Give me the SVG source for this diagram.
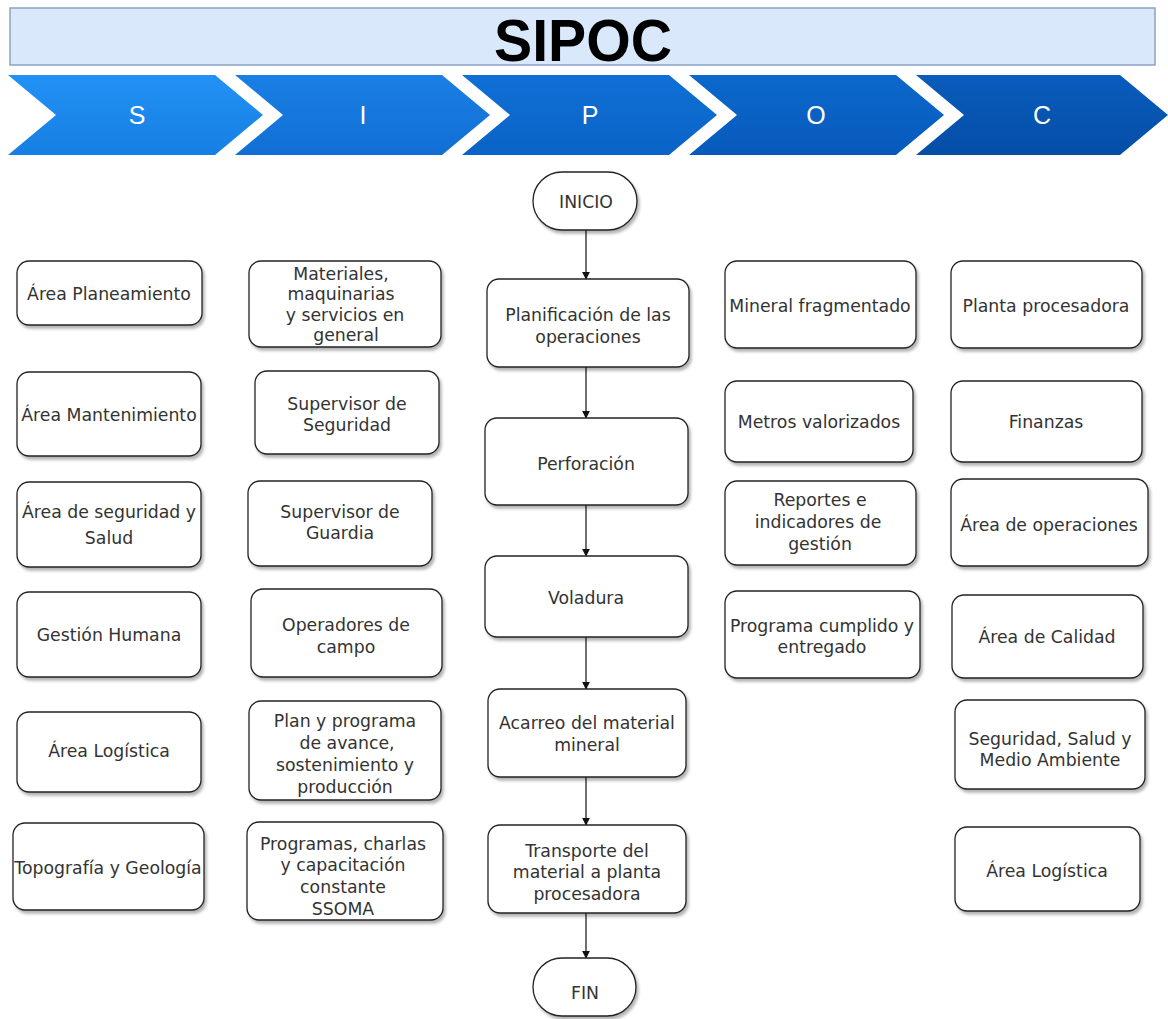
<svg xmlns="http://www.w3.org/2000/svg" width="1168" height="1019" viewBox="0 0 1168 1019">
<defs>
<filter id="sh" x="-10%" y="-10%" width="130%" height="140%">
<feDropShadow dx="2" dy="3" stdDeviation="1.5" flood-color="#000" flood-opacity="0.3"/>
</filter>
<marker id="arr" viewBox="0 0 10 10" refX="9" refY="5" markerWidth="8" markerHeight="8" orient="auto" markerUnits="userSpaceOnUse">
<path d="M0,0 L10,5 L0,10 Z" fill="#111"/>
</marker>
<linearGradient id="g0" x1="0" y1="0" x2="0" y2="1"><stop offset="0" stop-color="#2291f5"/><stop offset="1" stop-color="#167fe3"/></linearGradient>
<linearGradient id="g1" x1="0" y1="0" x2="0" y2="1"><stop offset="0" stop-color="#1a7fe4"/><stop offset="1" stop-color="#116fd4"/></linearGradient>
<linearGradient id="g2" x1="0" y1="0" x2="0" y2="1"><stop offset="0" stop-color="#1070d6"/><stop offset="1" stop-color="#0a63c6"/></linearGradient>
<linearGradient id="g3" x1="0" y1="0" x2="0" y2="1"><stop offset="0" stop-color="#0c68cc"/><stop offset="1" stop-color="#075abb"/></linearGradient>
<linearGradient id="g4" x1="0" y1="0" x2="0" y2="1"><stop offset="0" stop-color="#0a5cbc"/><stop offset="1" stop-color="#044ea6"/></linearGradient>
</defs>
<style>
.box{fill:#fff;stroke:#222;stroke-width:1.3;filter:url(#sh)}
.t{font-family:"DejaVu Sans",Verdana,sans-serif;font-size:17.3px;fill:#333;text-anchor:middle}
.lt{font-family:"Liberation Sans",Arial,sans-serif;font-size:25px;fill:#fff;text-anchor:middle}
.conn{stroke:#222;stroke-width:1.3;fill:none;marker-end:url(#arr)}
</style>
<rect width="1168" height="1019" fill="#fff"/>

<g id="header">
<rect x="10" y="8" width="1145" height="57" fill="#dae8fc" stroke="#8ca3c4" stroke-width="1.5"/>
<text x="583" y="61" font-family="'Liberation Sans',Arial,sans-serif" font-weight="bold" font-size="60" text-anchor="middle" fill="#000" textLength="178" lengthAdjust="spacingAndGlyphs">SIPOC</text>
</g>

<g id="chevrons">
<polygon points="8,75 215,75 263,115 215,155 8,155 56,115" fill="url(#g0)"/>
<polygon points="235,75 442,75 490,115 442,155 235,155 283,115" fill="url(#g1)"/>
<polygon points="462,75 669,75 717,115 669,155 462,155 510,115" fill="url(#g2)"/>
<polygon points="689,75 896,75 944,115 896,155 689,155 737,115" fill="url(#g3)"/>
<polygon points="916,75 1120,75 1168,115 1120,155 916,155 964,115" fill="url(#g4)"/>
<text class="lt" x="137" y="124">S</text>
<text class="lt" x="363" y="124">I</text>
<text class="lt" x="590" y="124">P</text>
<text class="lt" x="816" y="124">O</text>
<text class="lt" x="1042" y="124">C</text>
</g>

<g id="connectors">
<line class="conn" x1="586" y1="230" x2="586" y2="279"/>
<line class="conn" x1="586" y1="367" x2="586" y2="418"/>
<line class="conn" x1="586" y1="505" x2="586" y2="556"/>
<line class="conn" x1="586" y1="637" x2="586" y2="689"/>
<line class="conn" x1="586" y1="777" x2="586" y2="825"/>
<line class="conn" x1="586" y1="913" x2="586" y2="958"/>
</g>

<!-- S column -->
<g id="s1"><rect class="box" x="17" y="261" width="185" height="64" rx="12"/><text class="t" x="109" y="300">Área Planeamiento</text></g>
<g id="s2"><rect class="box" x="17" y="372" width="184" height="84" rx="12"/><text class="t" x="109" y="421">Área Mantenimiento</text></g>
<g id="s3"><rect class="box" x="17" y="482" width="184" height="85" rx="12"/><text class="t" x="109" y="518">Área de seguridad y</text><text class="t" x="109" y="544">Salud</text></g>
<g id="s4"><rect class="box" x="17" y="592" width="184" height="85" rx="12"/><text class="t" x="109" y="641">Gestión Humana</text></g>
<g id="s5"><rect class="box" x="17" y="712" width="184" height="80" rx="12"/><text class="t" x="109" y="757">Área Logística</text></g>
<g id="s6"><rect class="box" x="13" y="823" width="191" height="87" rx="12"/><text class="t" x="108" y="874">Topografía y Geología</text></g>

<!-- I column -->
<g id="i1"><rect class="box" x="249" y="261" width="192" height="86" rx="12"/><text class="t" x="341" y="280">Materiales,</text><text class="t" x="341" y="300">maquinarias</text><text class="t" x="345" y="321">y servicios en</text><text class="t" x="346" y="341">general</text></g>
<g id="i2"><rect class="box" x="255" y="371" width="184" height="83" rx="12"/><text class="t" x="347" y="410">Supervisor de</text><text class="t" x="347" y="431">Seguridad</text></g>
<g id="i3"><rect class="box" x="248" y="481" width="184" height="85" rx="12"/><text class="t" x="340" y="518">Supervisor de</text><text class="t" x="340" y="539">Guardia</text></g>
<g id="i4"><rect class="box" x="251" y="589" width="191" height="88" rx="12"/><text class="t" x="346" y="631">Operadores de</text><text class="t" x="346" y="653">campo</text></g>
<g id="i5"><rect class="box" x="249" y="701" width="192" height="99" rx="12"/><text class="t" x="345" y="727">Plan y programa</text><text class="t" x="347" y="749">de avance,</text><text class="t" x="345" y="771">sostenimiento y</text><text class="t" x="345" y="793">producción</text></g>
<g id="i6"><rect class="box" x="247" y="822" width="196" height="98" rx="12"/><text class="t" x="343" y="850">Programas, charlas</text><text class="t" x="343" y="871">y capacitación</text><text class="t" x="343" y="893">constante</text><text class="t" x="343" y="915">SSOMA</text></g>

<!-- P column -->
<g id="inicio"><rect class="box" x="533" y="172" width="104" height="58" rx="29"/><text class="t" x="586" y="208">INICIO</text></g>
<g id="p1"><rect class="box" x="487" y="279" width="202" height="88" rx="12"/><text class="t" x="588" y="321">Planificación de las</text><text class="t" x="588" y="343">operaciones</text></g>
<g id="p2"><rect class="box" x="485" y="418" width="203" height="87" rx="12"/><text class="t" x="586" y="470">Perforación</text></g>
<g id="p3"><rect class="box" x="485" y="556" width="203" height="81" rx="12"/><text class="t" x="586" y="604">Voladura</text></g>
<g id="p4"><rect class="box" x="488" y="689" width="198" height="88" rx="12"/><text class="t" x="587" y="729">Acarreo del material</text><text class="t" x="587" y="751">mineral</text></g>
<g id="p5"><rect class="box" x="488" y="825" width="198" height="88" rx="12"/><text class="t" x="587" y="857">Transporte del</text><text class="t" x="587" y="878">material a planta</text><text class="t" x="587" y="900">procesadora</text></g>
<g id="fin"><rect class="box" x="533" y="958" width="103" height="58" rx="29"/><text class="t" x="585" y="999">FIN</text></g>

<!-- O column -->
<g id="o1"><rect class="box" x="725" y="261" width="191" height="87" rx="12"/><text class="t" x="820" y="312">Mineral fragmentado</text></g>
<g id="o2"><rect class="box" x="725" y="381" width="188" height="81" rx="12"/><text class="t" x="819" y="428">Metros valorizados</text></g>
<g id="o3"><rect class="box" x="725" y="481" width="191" height="84" rx="12"/><text class="t" x="820" y="506">Reportes e</text><text class="t" x="818" y="528">indicadores de</text><text class="t" x="820" y="550">gestión</text></g>
<g id="o4"><rect class="box" x="725" y="591" width="195" height="87" rx="12"/><text class="t" x="822" y="632">Programa cumplido y</text><text class="t" x="822" y="653">entregado</text></g>

<!-- C column -->
<g id="c1"><rect class="box" x="951" y="261" width="191" height="87" rx="12"/><text class="t" x="1046" y="312">Planta procesadora</text></g>
<g id="c2"><rect class="box" x="951" y="381" width="191" height="81" rx="12"/><text class="t" x="1046" y="428">Finanzas</text></g>
<g id="c3"><rect class="box" x="951" y="479" width="197" height="87" rx="12"/><text class="t" x="1049" y="531">Área de operaciones</text></g>
<g id="c4"><rect class="box" x="952" y="595" width="191" height="83" rx="12"/><text class="t" x="1047" y="643">Área de Calidad</text></g>
<g id="c5"><rect class="box" x="955" y="700" width="190" height="89" rx="12"/><text class="t" x="1050" y="745">Seguridad, Salud y</text><text class="t" x="1050" y="766">Medio Ambiente</text></g>
<g id="c6"><rect class="box" x="955" y="827" width="185" height="84" rx="12"/><text class="t" x="1047" y="877">Área Logística</text></g>
</svg>
